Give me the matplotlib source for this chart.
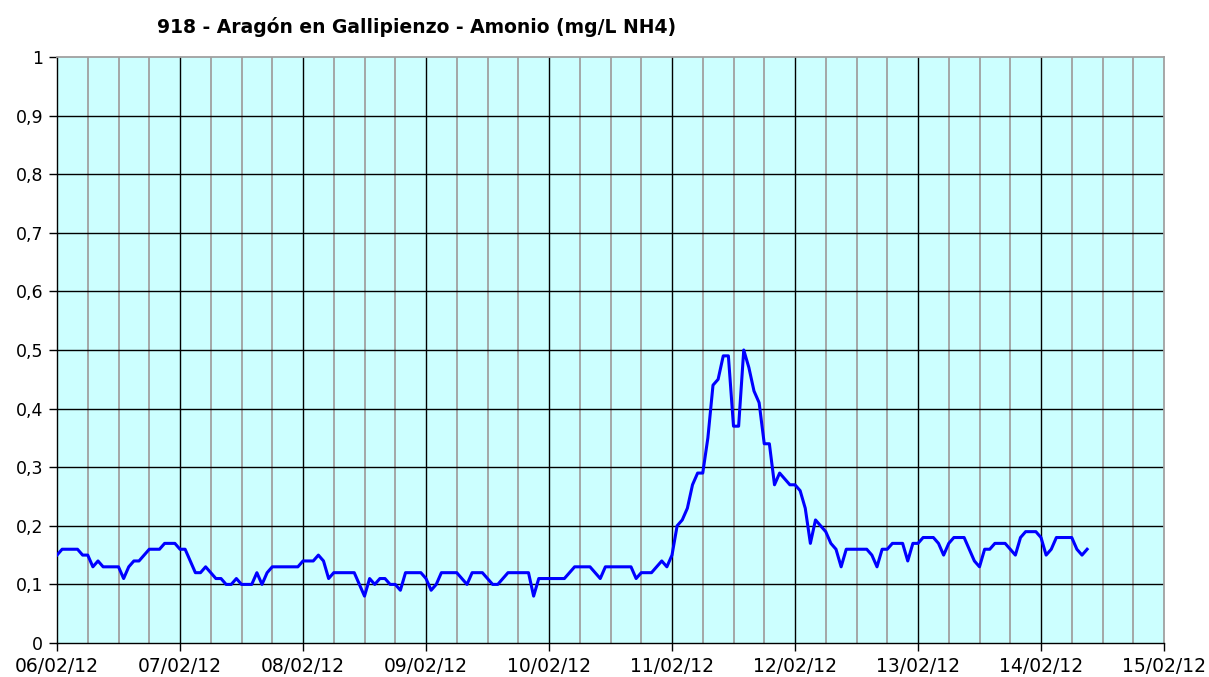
import matplotlib
matplotlib.use("Agg")
import matplotlib.pyplot as plt
import numpy as np

title = "918 - Aragón en Gallipienzo - Amonio (mg/L NH4)"
day_labels = ["06/02/12", "07/02/12", "08/02/12", "09/02/12", "10/02/12",
              "11/02/12", "12/02/12", "13/02/12", "14/02/12", "15/02/12"]
y_labels = ["0", "0,1", "0,2", "0,3", "0,4", "0,5", "0,6", "0,7", "0,8", "0,9", "1"]

# hourly ammonium readings from 06/02/12 00:00
day1 = [0.15, 0.16, 0.16, 0.16, 0.16, 0.15, 0.15, 0.13, 0.14, 0.13, 0.13, 0.13,
        0.13, 0.11, 0.13, 0.14, 0.14, 0.15, 0.16, 0.16, 0.16, 0.17, 0.17, 0.17]
day2 = [0.16, 0.16, 0.14, 0.12, 0.12, 0.13, 0.12, 0.11, 0.11, 0.10, 0.10, 0.11,
        0.10, 0.10, 0.10, 0.12, 0.10, 0.12, 0.13, 0.13, 0.13, 0.13, 0.13, 0.13]
day3 = [0.14, 0.14, 0.14, 0.15, 0.14, 0.11, 0.12, 0.12, 0.12, 0.12, 0.12, 0.10,
        0.08, 0.11, 0.10, 0.11, 0.11, 0.10, 0.10, 0.09, 0.12, 0.12, 0.12, 0.12]
day4 = [0.11, 0.09, 0.10, 0.12, 0.12, 0.12, 0.12, 0.11, 0.10, 0.12, 0.12, 0.12,
        0.11, 0.10, 0.10, 0.11, 0.12, 0.12, 0.12, 0.12, 0.12, 0.08, 0.11, 0.11]
day5 = [0.11, 0.11, 0.11, 0.11, 0.12, 0.13, 0.13, 0.13, 0.13, 0.12, 0.11, 0.13,
        0.13, 0.13, 0.13, 0.13, 0.13, 0.11, 0.12, 0.12, 0.12, 0.13, 0.14, 0.13]
day6 = [0.15, 0.20, 0.21, 0.23, 0.27, 0.29, 0.29, 0.35, 0.44, 0.45, 0.49, 0.49,
        0.37, 0.37, 0.50, 0.47, 0.43, 0.41, 0.34, 0.34, 0.27, 0.29, 0.28, 0.27]
day7 = [0.27, 0.26, 0.23, 0.17, 0.21, 0.20, 0.19, 0.17, 0.16, 0.13, 0.16, 0.16,
        0.16, 0.16, 0.16, 0.15, 0.13, 0.16, 0.16, 0.17, 0.17, 0.17, 0.14, 0.17]
day8 = [0.17, 0.18, 0.18, 0.18, 0.17, 0.15, 0.17, 0.18, 0.18, 0.18, 0.16, 0.14,
        0.13, 0.16, 0.16, 0.17, 0.17, 0.17, 0.16, 0.15, 0.18, 0.19, 0.19, 0.19]
day9 = [0.18, 0.15, 0.16, 0.18, 0.18, 0.18, 0.18, 0.16, 0.15, 0.16]

values = day1 + day2 + day3 + day4 + day5 + day6 + day7 + day8 + day9
hours = np.arange(len(values))
days = hours / 24.0

fig = plt.figure(figsize=(12.09, 6.77), dpi=100)
ax = fig.add_axes([57 / 1209, 1 - 643 / 677, (1164 - 57) / 1209, (643 - 57) / 677])
ax.set_facecolor("#CCFFFF")

ax.set_xlim(0, 9)
ax.set_ylim(0, 1)

# grid
for d in np.arange(0.25, 9, 0.25):
    if abs(d - round(d)) < 1e-9:
        ax.axvline(d, color="black", lw=1.0, zorder=1)
    else:
        ax.axvline(d, color="#A0A0A0", lw=1.3, zorder=1)
for v in np.arange(0.1, 1.0, 0.1):
    ax.axhline(v, color="black", lw=1.0, zorder=1)

ax.plot(days, values, color="#0000FF", lw=2.2, zorder=3)

ax.set_xticks(np.arange(0, 10))
ax.set_xticklabels(day_labels)
ax.set_yticks(np.arange(0, 1.01, 0.1))
ax.set_yticklabels(y_labels)
ax.tick_params(axis="both", direction="out", length=6, width=1, colors="black", pad=4)
ax.tick_params(axis="x", labelsize=13.5)
ax.tick_params(axis="y", labelsize=12.5)

for s in ["left", "bottom"]:
    ax.spines[s].set_color("black")
    ax.spines[s].set_linewidth(1.0)
for s in ["top", "right"]:
    ax.spines[s].set_color("#A0A0A0")
    ax.spines[s].set_linewidth(1.3)

fig.text(417 / 1209, 1 - 27 / 677, title, ha="center", va="center",
         fontsize=13.5, fontweight="bold")

fig.savefig("out.png", dpi=100)
